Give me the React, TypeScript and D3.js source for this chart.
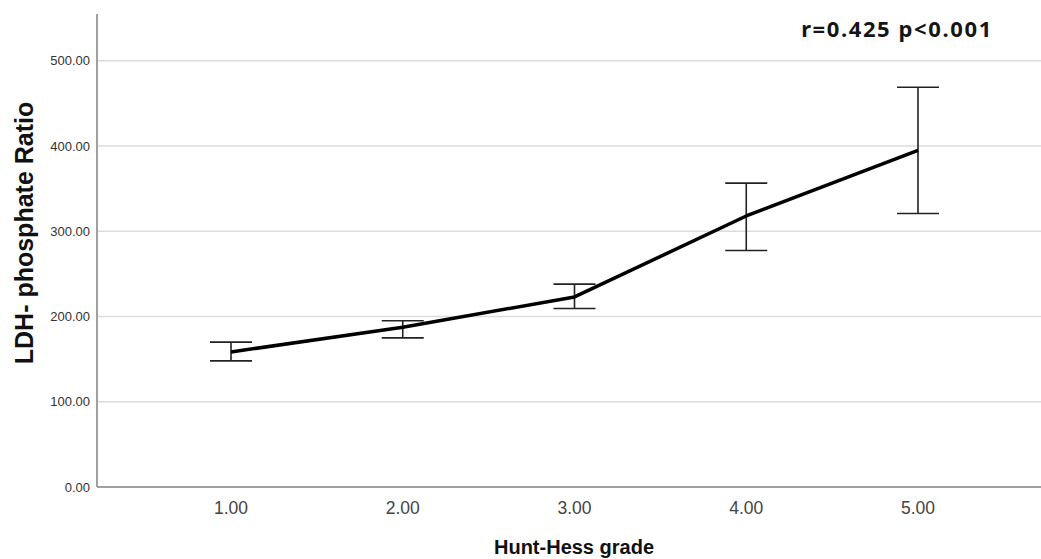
import { useRef, useEffect } from 'react';
import * as d3 from 'd3';

const grades = [1, 2, 3, 4, 5];
const means = [158.5, 187.5, 223, 318, 395];
const lower = [148, 175, 209.5, 277.5, 321];
const upper = [170, 195, 238, 356.5, 469];
const yTicks = [0, 100, 200, 300, 400, 500];
const annotation = 'r=0.425 p<0.001';

function App() {
  const svgRef = useRef<SVGSVGElement | null>(null);
  const width = 1041;
  const height = 559;

  useEffect(() => {
    const svg = d3.select(svgRef.current);
    svg.selectAll('*').remove();

    const margin = { top: 14, right: 0, bottom: 72, left: 97 };
    const x = d3.scaleLinear().domain([1, 5]).range([231, 918]);
    const y = d3
      .scaleLinear()
      .domain([0, 555])
      .range([height - margin.bottom, margin.top]);

    const data = grades.map((g, i) => ({
      g,
      mean: means[i],
      lo: lower[i],
      hi: upper[i],
    }));

    // gridlines
    svg
      .append('g')
      .selectAll('line')
      .data(yTicks.filter((t) => t > 0))
      .join('line')
      .attr('x1', margin.left)
      .attr('x2', width)
      .attr('y1', (d) => y(d))
      .attr('y2', (d) => y(d))
      .attr('stroke', '#dcdcdc')
      .attr('stroke-width', 1.5);

    // axis lines
    svg
      .append('line')
      .attr('x1', margin.left)
      .attr('x2', margin.left)
      .attr('y1', margin.top)
      .attr('y2', y(0))
      .attr('stroke', '#a0a0a0')
      .attr('stroke-width', 2);
    svg
      .append('line')
      .attr('x1', margin.left)
      .attr('x2', width)
      .attr('y1', y(0))
      .attr('y2', y(0))
      .attr('stroke', '#a0a0a0')
      .attr('stroke-width', 2);

    // y tick labels
    svg
      .append('g')
      .selectAll('text')
      .data(yTicks)
      .join('text')
      .attr('x', margin.left - 7)
      .attr('y', (d) => y(d) + 4.5)
      .attr('text-anchor', 'end')
      .attr('font-family', 'Liberation Sans, Arial, sans-serif')
      .attr('font-size', 13)
      .attr('fill', '#333')
      .text((d) => d3.format('.2f')(d));

    // x tick labels
    svg
      .append('g')
      .selectAll('text')
      .data(grades)
      .join('text')
      .attr('x', (d) => x(d))
      .attr('y', y(0) + 27)
      .attr('text-anchor', 'middle')
      .attr('font-family', 'Liberation Sans, Arial, sans-serif')
      .attr('font-size', 17.5)
      .attr('fill', '#444')
      .text((d) => d3.format('.2f')(d));

    // error bars
    const eb = svg.append('g').attr('stroke', '#222').attr('stroke-width', 1.6);
    eb.selectAll('line.v')
      .data(data)
      .join('line')
      .attr('class', 'v')
      .attr('x1', (d) => x(d.g))
      .attr('x2', (d) => x(d.g))
      .attr('y1', (d) => y(d.lo))
      .attr('y2', (d) => y(d.hi));
    eb.selectAll('line.top')
      .data(data)
      .join('line')
      .attr('class', 'top')
      .attr('x1', (d) => x(d.g) - 21)
      .attr('x2', (d) => x(d.g) + 21)
      .attr('y1', (d) => y(d.hi))
      .attr('y2', (d) => y(d.hi));
    eb.selectAll('line.bot')
      .data(data)
      .join('line')
      .attr('class', 'bot')
      .attr('x1', (d) => x(d.g) - 21)
      .attr('x2', (d) => x(d.g) + 21)
      .attr('y1', (d) => y(d.lo))
      .attr('y2', (d) => y(d.lo));

    // mean line
    const line = d3
      .line<{ g: number; mean: number }>()
      .x((d) => x(d.g))
      .y((d) => y(d.mean));
    svg
      .append('path')
      .attr('d', line(data))
      .attr('fill', 'none')
      .attr('stroke', '#000')
      .attr('stroke-width', 3.5)
      .attr('stroke-linejoin', 'round');

    // axis titles
    svg
      .append('text')
      .attr('transform', `translate(33,233) rotate(-90)`)
      .attr('text-anchor', 'middle')
      .attr('font-family', 'Liberation Sans, Arial, sans-serif')
      .attr('font-weight', 700)
      .attr('font-size', 25)
      .attr('fill', '#111')
      .text('LDH- phosphate Ratio');

    svg
      .append('text')
      .attr('x', 574)
      .attr('y', 554)
      .attr('text-anchor', 'middle')
      .attr('font-family', 'Liberation Sans, Arial, sans-serif')
      .attr('font-weight', 700)
      .attr('font-size', 20)
      .attr('fill', '#111')
      .text('Hunt-Hess grade');

    svg
      .append('text')
      .attr('x', 897)
      .attr('y', 37)
      .attr('text-anchor', 'middle')
      .attr('font-family', 'Noto Sans, Open Sans, sans-serif')
      .attr('font-weight', 700)
      .attr('font-size', 22)
      .attr('letter-spacing', 1.6)
      .attr('fill', '#151515')
      .text(annotation);
  }, [width, height]);

  return (
    <svg
      ref={svgRef}
      width={width}
      height={height}
      style={{ position: 'absolute', left: 0, top: 0, background: '#fff' }}
    ></svg>
  );
}

export default App;
